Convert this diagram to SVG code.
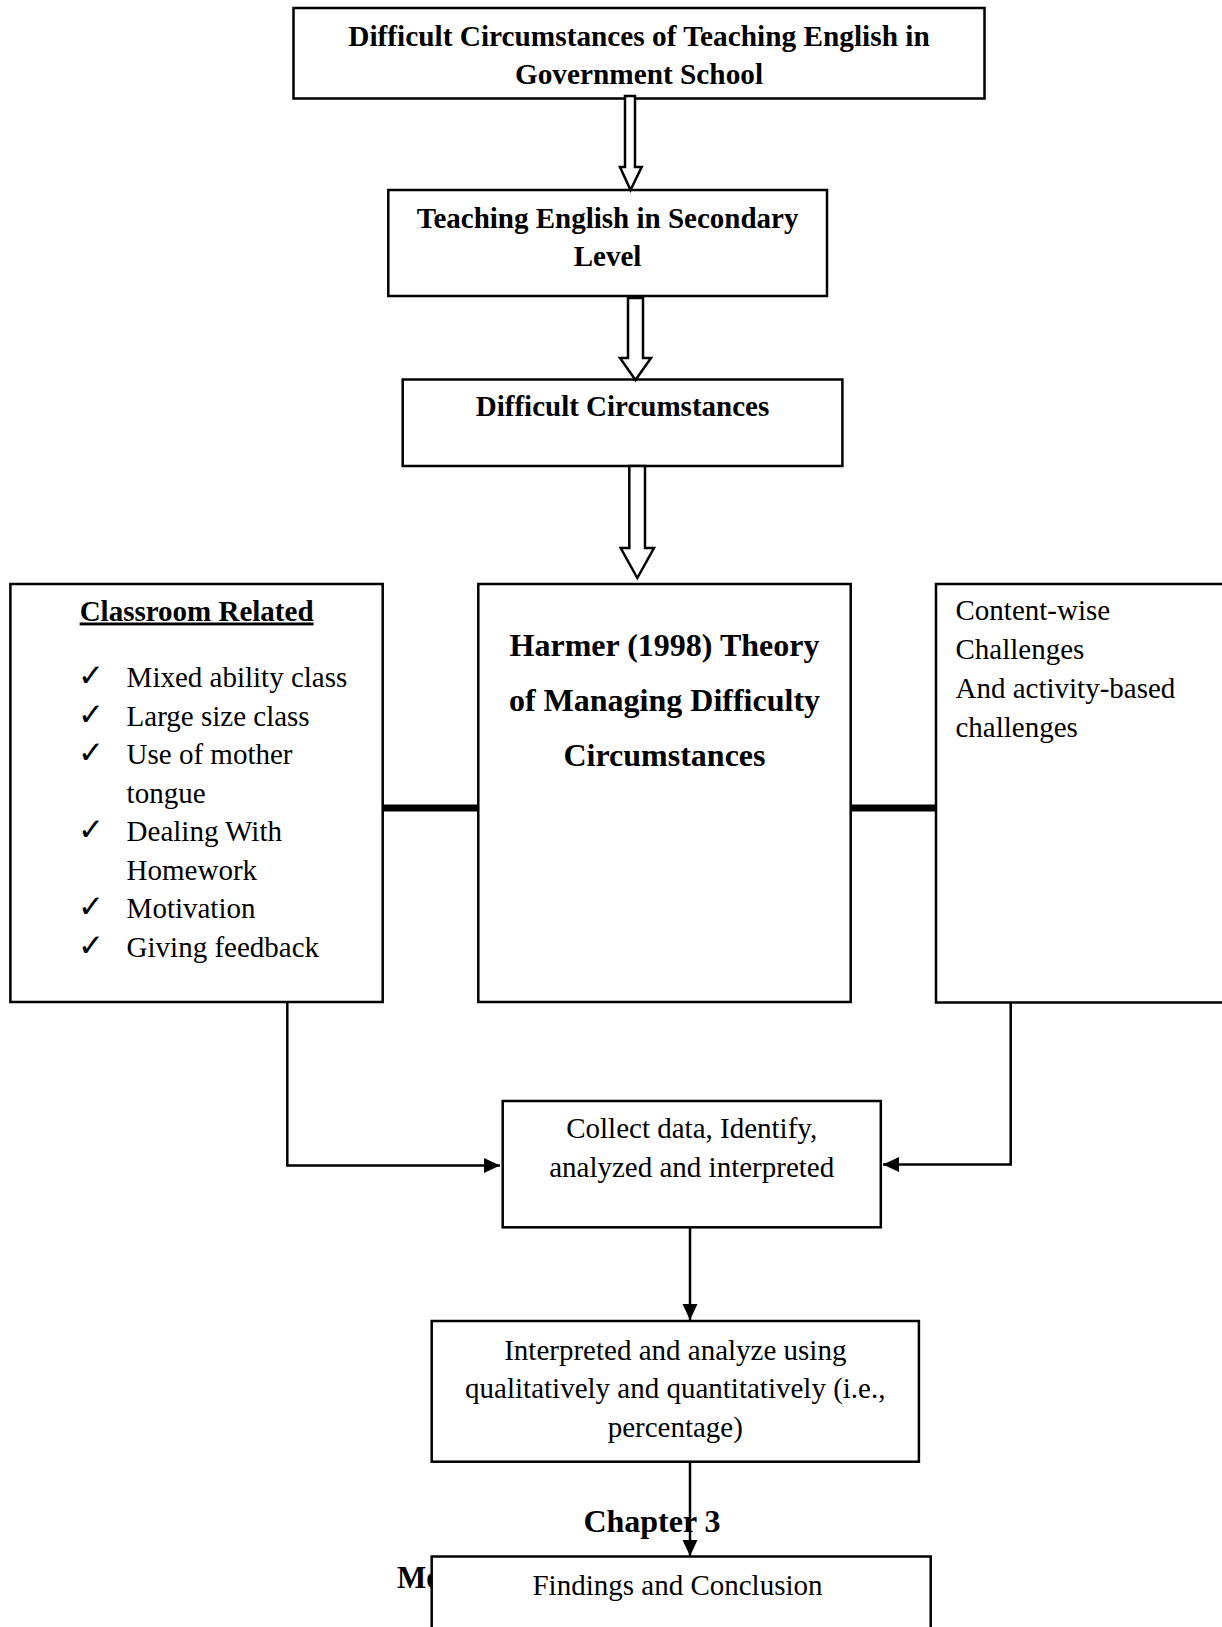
<svg xmlns="http://www.w3.org/2000/svg" width="1222" height="1627" viewBox="0 0 1222 1627">
<defs>
<style>
.box{fill:#fff;stroke:#000;stroke-width:2.5}
.hollow{fill:#fff;stroke:#000;stroke-width:2.5;stroke-linejoin:miter}
.b{font-family:"Liberation Serif","Times New Roman",serif;font-weight:bold;font-size:29px;fill:#000}
.r{font-family:"Liberation Serif","Times New Roman",serif;font-size:29px;fill:#000}
.big{font-size:32px}
.chk{font-family:"DejaVu Sans",sans-serif;font-size:31px;font-weight:bold;fill:#000}
.conn{fill:none;stroke:#000;stroke-width:2.5}
.thick{fill:none;stroke:#000;stroke-width:7}
</style>
<marker id="ah" markerUnits="userSpaceOnUse" markerWidth="17" markerHeight="16" refX="16" refY="7.5" orient="auto">
<path d="M0,0 L16,7.5 L0,15 z" fill="#000"/>
</marker>
</defs>
<rect width="1222" height="1627" fill="#fff"/>

<g id="node-top">
<rect class="box" x="293.5" y="8" width="691" height="90.5"/>
<text class="b" x="639" y="46" text-anchor="middle" style="font-size:29.3px">Difficult Circumstances of Teaching English in</text>
<text class="b" x="639" y="84.3" text-anchor="middle" style="font-size:29.3px">Government School</text>
</g>

<g id="node-secondary">
<rect class="box" x="388.3" y="190" width="438.7" height="106"/>
<text class="b" x="607.6" y="227.7" text-anchor="middle">Teaching English in Secondary</text>
<text class="b" x="607.6" y="266" text-anchor="middle">Level</text>
</g>

<g id="node-difficult">
<rect class="box" x="402.7" y="379.5" width="439.7" height="86.5"/>
<text class="b" x="622.5" y="416" text-anchor="middle">Difficult Circumstances</text>
</g>

<g id="node-classroom">
<rect class="box" x="10.4" y="584" width="372.3" height="418"/>
<text class="b" x="196.6" y="620.5" text-anchor="middle" text-decoration="underline">Classroom Related</text>
<text class="chk" x="78" y="686">✓</text>
<text class="r" x="126.6" y="687">Mixed ability class</text>
<text class="chk" x="78" y="724.5">✓</text>
<text class="r" x="126.6" y="725.5">Large size class</text>
<text class="chk" x="78" y="763">✓</text>
<text class="r" x="126.6" y="764">Use of mother</text>
<text class="r" x="126.6" y="802.5">tongue</text>
<text class="chk" x="78" y="840">✓</text>
<text class="r" x="126.6" y="841">Dealing With</text>
<text class="r" x="126.6" y="879.5">Homework</text>
<text class="chk" x="78" y="917">✓</text>
<text class="r" x="126.6" y="918">Motivation</text>
<text class="chk" x="78" y="955.5">✓</text>
<text class="r" x="126.6" y="956.5">Giving feedback</text>
</g>

<g id="node-harmer">
<rect class="box" x="478.3" y="584" width="372.4" height="418"/>
<text class="b big" x="664.5" y="656" text-anchor="middle">Harmer (1998) Theory</text>
<text class="b big" x="664.5" y="710.5" text-anchor="middle">of Managing Difficulty</text>
<text class="b big" x="664.5" y="766" text-anchor="middle">Circumstances</text>
</g>

<g id="node-content">
<rect class="box" x="936" y="584" width="300" height="418.5"/>
<text class="r" x="955.5" y="620">Content-wise</text>
<text class="r" x="955.5" y="659">Challenges</text>
<text class="r" x="955.5" y="698">And activity-based</text>
<text class="r" x="955.5" y="737">challenges</text>
</g>

<g id="node-collect">
<rect class="box" x="502.7" y="1101" width="378.1" height="126.3"/>
<text class="r" x="691.7" y="1137.7" text-anchor="middle">Collect data, Identify,</text>
<text class="r" x="691.7" y="1176.7" text-anchor="middle">analyzed and interpreted</text>
</g>

<g id="node-interpreted">
<rect class="box" x="431.7" y="1321" width="487.2" height="140.7"/>
<text class="r" x="675.3" y="1359.5" text-anchor="middle">Interpreted and analyze using</text>
<text class="r" x="675.3" y="1398" text-anchor="middle">qualitatively and quantitatively (i.e.,</text>
<text class="r" x="675.3" y="1436.5" text-anchor="middle">percentage)</text>
</g>

<g id="label-chapter">
<text class="b big" x="652" y="1532" text-anchor="middle">Chapter 3</text>
<text class="b" x="397" y="1588" style="font-size:31px">Me</text>
</g>

<g id="node-findings">
<rect class="box" x="431.7" y="1556.5" width="499" height="100"/>
<text class="r" x="677.5" y="1595" text-anchor="middle">Findings and Conclusion</text>
</g>

<g id="connectors">
<polygon class="hollow" points="625,96 635,96 635,167 641.7,167 630.5,190 620,167 625,167"/>
<polygon class="hollow" points="628,298 643,298 643,358 651,358 635.5,380 620,358 628,358"/>
<polygon class="hollow" points="629.3,466 645,466 645,548 654,548 637.3,578 620.7,548 629.3,548"/>
<line class="thick" x1="382.7" y1="808" x2="478.3" y2="808"/>
<line class="thick" x1="850.7" y1="808" x2="936" y2="808"/>
<polyline class="conn" points="287.3,1002 287.3,1165.5 500,1165.5" marker-end="url(#ah)"/>
<polyline class="conn" points="1010.7,1002.7 1010.7,1164.5 883,1164.5" marker-end="url(#ah)"/>
<line class="conn" x1="690" y1="1227.3" x2="690" y2="1320" marker-end="url(#ah)"/>
<line class="conn" x1="690" y1="1461.7" x2="690" y2="1556" marker-end="url(#ah)"/>
</g>
</svg>
